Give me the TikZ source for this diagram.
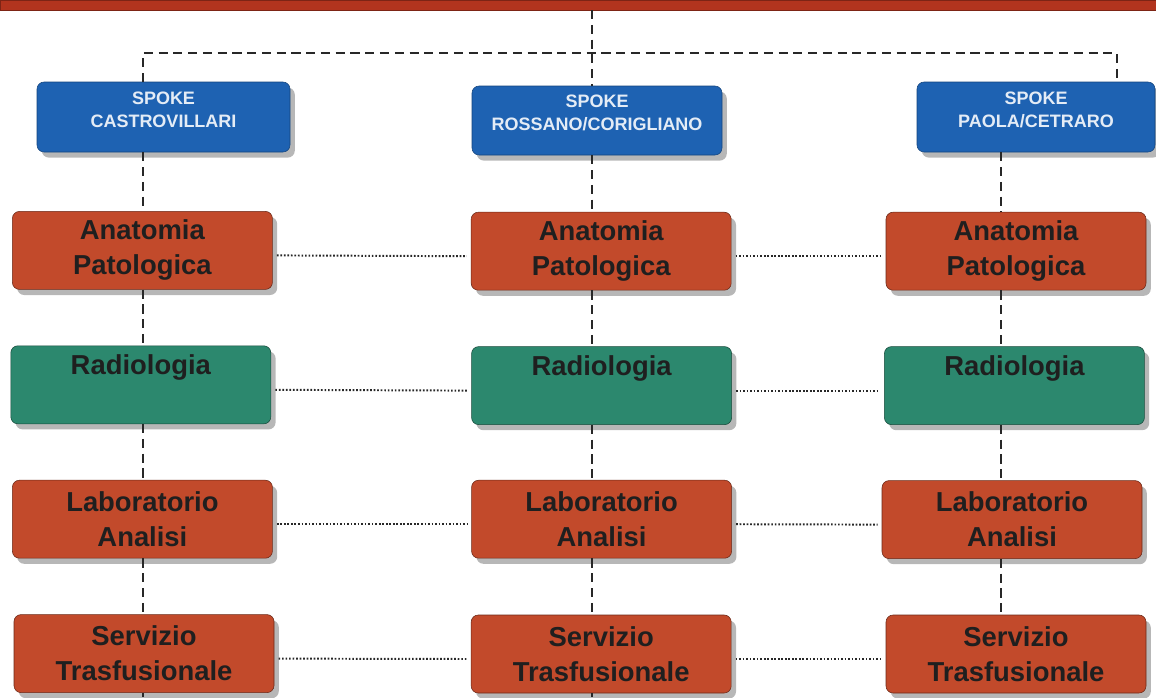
\documentclass[tikz,border=0pt]{standalone}
\usepackage{fontspec}
\setmainfont{Liberation Sans}
\usetikzlibrary{shadows, calc}
\definecolor{hubred}{RGB}{178, 52, 30}
\definecolor{spokeblue}{RGB}{30, 98, 178}
\definecolor{deptred}{RGB}{194, 74, 43}
\definecolor{deptgreen}{RGB}{44, 136, 110}
\definecolor{linkgray}{RGB}{40, 40, 40}

\begin{document}
\begin{tikzpicture}[
    spoke/.style={rectangle, rounded corners=5pt, draw=spokeblue!70!black, fill=spokeblue,
                  minimum height=1.75cm, align=center, text=white!88!spokeblue,
                  font=\fontsize{12.8}{16.4}\selectfont\bfseries,
                  drop shadow={shadow xshift=0.12cm, shadow yshift=-0.14cm, fill=black!70, opacity=0.4}},
    dept/.style={rectangle, rounded corners=5pt, draw=#1!55!black, fill=#1,
                 minimum width=6.5cm, minimum height=1.95cm, align=center, text=black!88,
                 font=\fontsize{19.5}{24.9}\selectfont\bfseries,
                 drop shadow={shadow xshift=0.12cm, shadow yshift=-0.14cm, fill=black!70, opacity=0.4}},
    dept/.default=deptred,
    link/.style={draw=linkgray, line width=2.1pt, dash pattern=on 6.5pt off 4pt},
    peer/.style={draw=linkgray, line width=1.4pt, dash pattern=on 1.2pt off 1.3pt,
                 shorten <=3pt, shorten >=3pt}]

    \useasboundingbox (0, 0) rectangle (28.9, -17.425);

    % Hub bar (top)
    \node[rectangle, fill=hubred, draw=hubred!70!black, minimum width=28.9cm, minimum height=0.25cm,
          inner sep=0pt, outer sep=0pt] (hub) at (14.45, -0.125) {};

    % Column lines
    \coordinate (cA) at (3.575, 0);
    \coordinate (cB) at (14.8, 0);
    \coordinate (cC) at (25.025, 0);
    \coordinate (topL) at (3.575, -1.325);
    \coordinate (topR) at (27.925, -1.325);
    \coordinate (endA) at (3.575, -17.425);
    \coordinate (endB) at (14.8, -17.425);

    % Spokes
    \node[spoke, minimum width=6.325cm] (sp1) at (4.0875, -2.925) {SPOKE\\CASTROVILLARI\\[-5.7pt]\mbox{}};
    \node[spoke, minimum width=6.25cm, minimum height=1.725cm] (sp2) at (14.925, -3.0125) {SPOKE\\ROSSANO/CORIGLIANO\\[-5.7pt]\mbox{}};
    \node[spoke, minimum width=5.95cm] (sp3) at (25.9, -2.925) {SPOKE\\PAOLA/CETRARO\\[-5.7pt]\mbox{}};

    % Departments
    \node[dept] (ap1) at (3.56, -6.26) {Anatomia\\Patologica};
    \node[dept] (ap2) at (15.03, -6.28) {Anatomia\\Patologica};
    \node[dept] (ap3) at (25.4, -6.28) {Anatomia\\Patologica};

    \node[dept=deptgreen] (rad1) at (3.52, -9.62) {Radiologia\\\vphantom{g}};
    \node[dept=deptgreen] (rad2) at (15.04, -9.64) {Radiologia\\\vphantom{g}};
    \node[dept=deptgreen] (rad3) at (25.36, -9.64) {Radiologia\\\vphantom{g}};

    \node[dept] (lab1) at (3.56, -12.98) {Laboratorio\\Analisi};
    \node[dept] (lab2) at (15.04, -12.98) {Laboratorio\\Analisi};
    \node[dept] (lab3) at (25.3, -12.99) {Laboratorio\\Analisi};

    \node[dept] (tra1) at (3.6, -16.34) {Servizio\\Trasfusionale};
    \node[dept] (tra2) at (15.03, -16.35) {Servizio\\Trasfusionale};
    \node[dept] (tra3) at (25.4, -16.35) {Servizio\\Trasfusionale};

    % Hub to spokes
    \draw[link] (hub.south -| cB) -- (sp2.north -| cB);
    \draw[link] (sp1.north -| topL) -- (topL) -- (topR) -- (sp3.north -| topR);

    % Columns
    \draw[link] (sp1.south -| cA) -- (ap1.north -| cA);
    \draw[link] (ap1.south -| cA) -- (rad1.north -| cA);
    \draw[link] (rad1.south -| cA) -- (lab1.north -| cA);
    \draw[link] (lab1.south -| cA) -- (tra1.north -| cA);
    \draw[link] (tra1.south -| cA) -- (endA);

    \draw[link] (sp2.south -| cB) -- (ap2.north -| cB);
    \draw[link] (ap2.south -| cB) -- (rad2.north -| cB);
    \draw[link] (rad2.south -| cB) -- (lab2.north -| cB);
    \draw[link] (lab2.south -| cB) -- (tra2.north -| cB);
    \draw[link] (tra2.south -| cB) -- (endB);

    \draw[link] (sp3.south -| cC) -- (ap3.north -| cC);
    \draw[link] (ap3.south -| cC) -- (rad3.north -| cC);
    \draw[link] (rad3.south -| cC) -- (lab3.north -| cC);
    \draw[link] (lab3.south -| cC) -- (tra3.north -| cC);

    % Rows
    \draw[peer] ([yshift=-0.125cm]ap1.east) -- ([yshift=-0.125cm]ap2.west);
    \draw[peer] ([yshift=-0.125cm]ap2.east) -- ([yshift=-0.125cm]ap3.west);
    \draw[peer] ([yshift=-0.125cm]rad1.east) -- ([yshift=-0.125cm]rad2.west);
    \draw[peer] ([yshift=-0.125cm]rad2.east) -- ([yshift=-0.125cm]rad3.west);
    \draw[peer] ([yshift=-0.125cm]lab1.east) -- ([yshift=-0.125cm]lab2.west);
    \draw[peer] ([yshift=-0.125cm]lab2.east) -- ([yshift=-0.125cm]lab3.west);
    \draw[peer] ([yshift=-0.125cm]tra1.east) -- ([yshift=-0.125cm]tra2.west);
    \draw[peer] ([yshift=-0.125cm]tra2.east) -- ([yshift=-0.125cm]tra3.west);
\end{tikzpicture}
\end{document}
